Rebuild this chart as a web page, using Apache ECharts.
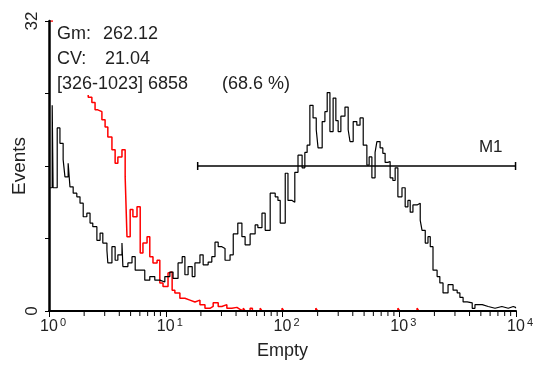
<!DOCTYPE html>
<html>
<head>
<meta charset="utf-8">
<script src="https://cdn.jsdelivr.net/npm/echarts@6/dist/echarts.min.js"></script>
<style>
  html, body { margin: 0; padding: 0; background: #fff; }
  #chart { width: 538px; height: 367px; }
</style>
</head>
<body>
<div id="chart"></div>
<script>
// Histogram channels (1024 channels over 4 log decades) and event counts
const blackChannels = [2,7,9,18,24,31,35,42,46,53,61,68,75,83,90,96,105,112,118,127,
  129,138,145,151,160,162,173,182,189,200,210,221,232,243,254,265,272,283,292,298,
  305,314,320,331,338,349,357,364,371,379,386,397,404,414,423,430,441,452,458,467,
  474,485,496,502,507,518,524,533,539,546,555,561,566,572,579,586,590,599,605,610,
  616,623,629,634,640,649,656,660,667,675,682,689,697,702,708,715,719,726,732,737,
  743,748,754,759,765,774,781,787,792,798,807,814,818,825,831,836,842,851,857,864,
  875,886,895,901,908,917,928,934,950,963,978,993,1007,1018,1023];
const blackCounts = [13.6,22.7,13.6,20.2,18.5,16.7,14.8,16.3,13.7,13.0,12.6,11.9,10.4,10.8,9.7,9.3,7.8,8.6,7.5,6.7,
  5.3,7.1,5.6,6.2,7.5,4.9,5.3,6.0,4.5,4.5,3.4,3.8,3.4,3.2,3.8,4.3,3.6,5.3,6.0,4.0,
  4.9,3.8,5.3,6.2,5.1,5.4,6.0,7.6,7.1,6.9,5.6,6.2,8.5,9.7,8.2,7.3,8.5,9.5,9.2,10.8,
  8.9,13.0,12.6,12.2,9.7,15.2,12.2,12.0,15.3,17.2,15.8,17.5,18.3,22.7,21.3,20.0,18.0,20.9,22.0,24.1,
  19.8,23.5,21.0,19.8,21.5,22.5,20.0,18.7,20.9,20.5,21.3,18.3,16.1,17.0,14.7,17.5,18.7,18.0,17.4,16.4,
  16.5,14.7,14.4,15.8,12.6,13.6,11.5,12.2,10.9,11.7,11.9,10.0,8.9,7.5,8.2,7.1,4.5,3.8,3.1,2.0,
  2.9,2.3,2.0,1.5,1.0,0.9,0.3,0.7,0.5,0.3,0.5,0.3,0.5,0.4,0.3];

const redChannels = [2,86,94,101,107,116,123,129,138,145,151,160,167,171,178,184,193,200,206,215,
  221,228,237,243,250,261,265,270,276,287,298,309,320,331,342,353,360,371,379,390,
  401,412,418,426,430,441,446,463,467,511,515,585,589,765,769,807,811];
const redCounts = [32,23.6,23.0,22.2,22.0,21.1,20.3,19.2,17.8,16.3,17.0,17.8,14.8,8.2,11.2,10.4,11.5,6.4,7.5,8.2,
  6.0,5.3,5.6,3.1,2.7,4.2,4.3,2.3,2.0,1.4,1.2,1.0,1.2,0.7,0.3,0.5,0.9,0.5,0.7,0.3,
  0.4,0.2,0,0.3,0,0.3,0,0.3,0,0.3,0,0.3,0,0.3,0,0.3,0];

// Marker M1 (channel range and drawing level)
const markerName = 'M1';
const markerRange = [326, 1023];
const markerLevel = 16;

// Statistics box
const statLines = [
  ['Gm:', '262.12'],
  ['CV:', '21.04'],
  ['[326-1023] 6858', '(68.6 %)']
];

const channelsPerDecade = 256;
const FONT = "'Liberation Sans', Arial, sans-serif";

// Minor ticks at 2..9 within each decade, in channel units
const minorTicks = [];
for (let d = 0; d < 4; d++) {
  for (let k = 2; k <= 9; k++) minorTicks.push([channelsPerDecade * (d + Math.log10(k))]);
}

const pairs = (xs, ys) => xs.map((x, i) => [x, ys[i]]);

const chart = echarts.init(document.getElementById('chart'), null, { renderer: 'canvas' });

chart.setOption({
  animation: false,
  backgroundColor: '#fff',
  grid: { left: 49, right: 22, top: 21, bottom: 56, containLabel: false, outerBoundsMode: 'none' },
  xAxis: {
    type: 'value', min: 0, max: 1024, interval: channelsPerDecade, z: 5,
    name: 'Empty', nameLocation: 'middle', nameGap: 31, nameMoveOverlap: false,
    nameTextStyle: { fontFamily: FONT, fontSize: 18, color: '#222' },
    axisLine: { lineStyle: { color: '#000', width: 2 } },
    axisTick: { show: true, inside: false, length: 6, lineStyle: { color: '#000', width: 1 } },
    splitLine: { show: false },
    axisLabel: {
      margin: 6, fontFamily: FONT, color: '#222',
      formatter: v => {
        const e = Math.round(v / channelsPerDecade);
        return '{p|' + e + '}{b|10}{s|' + e + '}';
      },
      rich: {
        b: { fontFamily: FONT, fontSize: 16, color: '#222' },
        s: { fontFamily: FONT, fontSize: 11, color: '#222', padding: [0, 0, 8, 2] },
        p: { fontFamily: FONT, fontSize: 11, color: 'rgba(0,0,0,0)', padding: [0, 2, 8, 0] }
      }
    }
  },
  yAxis: {
    type: 'value', min: 0, max: 32, interval: 8, z: 5,
    name: 'Events', nameLocation: 'middle', nameGap: 20, nameRotate: 90, nameMoveOverlap: false,
    nameTextStyle: { fontFamily: FONT, fontSize: 19, color: '#222' },
    axisLine: { show: true, onZero: false, lineStyle: { color: '#000', width: 2.5 } },
    axisTick: { show: true, inside: false, length: 4, lineStyle: { color: '#000', width: 1 } },
    splitLine: { show: false },
    axisLabel: {
      rotate: 90, margin: 8, fontFamily: FONT, fontSize: 17, color: '#222',
      formatter: v => (v === 0 || v === 32) ? String(v) : ''
    }
  },
  graphic: [
    { type: 'rect', z: 10, shape: { x: 53, y: 16, width: 245, height: 79 }, style: { fill: '#fff' } },
    ...statLines.flatMap((ln, i) => {
      const y = 34.5 + i * 24.6;
      const valueX = [103, 105, 222][i];
      return [
        { type: 'text', z: 11, x: 57, y: y, style: { text: ln[0], font: '18px ' + FONT, fill: '#222', verticalAlign: 'middle' } },
        { type: 'text', z: 11, x: valueX, y: y, style: { text: ln[1], font: '18px ' + FONT, fill: '#222', verticalAlign: 'middle' } }
      ];
    })
  ],
  series: [
    {
      name: 'minorTicks', type: 'custom', silent: true, clip: false,
      data: minorTicks,
      encode: { x: 0 },
      renderItem: (params, api) => {
        const p = api.coord([api.value(0), 0]);
        return { type: 'line', shape: { x1: p[0], y1: p[1], x2: p[0], y2: p[1] + 5 },
                 style: { stroke: '#000', lineWidth: 1 } };
      }
    },
    {
      name: 'Control', type: 'line', step: 'end', symbol: 'none',
      data: pairs(redChannels, redCounts),
      lineStyle: { color: '#ff0000', width: 1.5 },
      clip: true
    },
    {
      name: 'Sample', type: 'line', step: 'end', symbol: 'none',
      data: pairs(blackChannels, blackCounts),
      lineStyle: { color: '#000', width: 1.2 },
      clip: true
    },
    {
      name: markerName, type: 'custom', silent: true, clip: false,
      data: [[markerRange[0], markerRange[1], markerLevel]],
      encode: { x: [0, 1], y: 2 },
      renderItem: (params, api) => {
        const a = api.coord([api.value(0), api.value(2)]);
        const b = api.coord([api.value(1), api.value(2)]);
        const st = { stroke: '#000', lineWidth: 1.5 };
        return {
          type: 'group',
          children: [
            { type: 'line', shape: { x1: a[0], y1: a[1], x2: b[0], y2: b[1] }, style: st },
            { type: 'line', shape: { x1: a[0], y1: a[1] - 4, x2: a[0], y2: a[1] + 4 }, style: st },
            { type: 'line', shape: { x1: b[0], y1: b[1] - 4, x2: b[0], y2: b[1] + 4 }, style: st },
            { type: 'text', x: b[0] - 13, y: b[1] - 19,
              style: { text: markerName, font: '17px ' + FONT, fill: '#222', align: 'right', verticalAlign: 'middle' } }
          ]
        };
      }
    }
  ]
});
</script>
</body>
</html>
